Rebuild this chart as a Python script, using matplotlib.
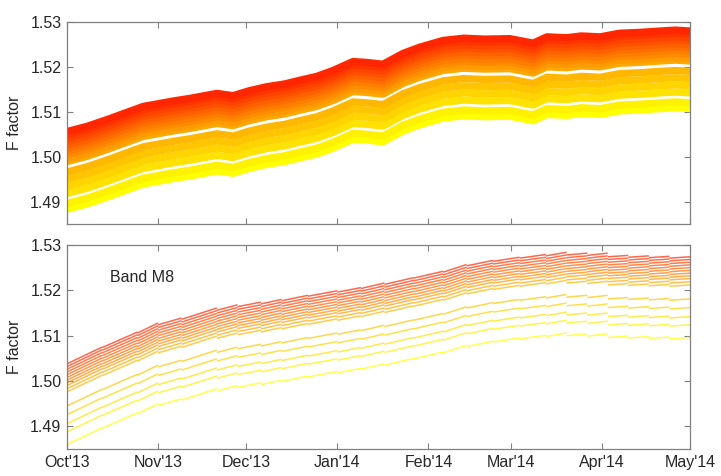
import numpy as np
import pandas as pd
import matplotlib
matplotlib.use("Agg")
import matplotlib.pyplot as plt

plt.rcParams["font.family"] = ["Liberation Sans", "DejaVu Sans"]

START = pd.Timestamp("2013-10-01")
END = pd.Timestamp("2014-05-01")

MONTH_LABELS = ["Oct'13", "Nov'13", "Dec'13", "Jan'14",
                "Feb'14", "Mar'14", "Apr'14", "May'14"]

# top panel: F factor of the highest detector, days since 1 Oct 2013
TOP_DAYS = [0, 7, 14.6, 20, 25.9, 31, 36, 41.9, 46, 51, 56.5, 62, 68, 74,
            79, 85, 90.5, 97.3, 102, 107.5, 114.3, 120, 128, 135, 142,
            150.7, 158.6, 163.3, 170, 175, 181.4, 188, 195, 201.8, 207, 212]
TOP_VALUES = [1.5056, 1.5068, 1.5085, 1.5098, 1.5112, 1.5118, 1.5124, 1.5130,
              1.5135, 1.5141, 1.5136, 1.5147, 1.5156, 1.5162, 1.5170, 1.5179,
              1.5192, 1.5212, 1.5210, 1.5206, 1.5230, 1.5244, 1.5259, 1.5264,
              1.5262, 1.5263, 1.5253, 1.5267, 1.5265, 1.5269, 1.5267, 1.5275,
              1.5277, 1.5280, 1.5282, 1.5280]

# offset of each detector from the highest one (top panel)
TOP_OFFSETS = [0, -0.0007, -0.0015, -0.0022, -0.0030, -0.0037, -0.0045,
               -0.0052, -0.0060, -0.0067, -0.0090, -0.0106, -0.0122,
               -0.0138, -0.0160, -0.0173]

# bottom panel (Band M8): LUT segments of the highest detector
SEG_DAYS = [0, 12, 24, 31, 39, 51, 58, 66, 73, 82, 92, 100, 108, 118, 128,
            136, 145, 154, 163, 170, 177, 184, 191, 198, 205, 212]
SEG_START = [1.5038, 1.5074, 1.5106, 1.5124, 1.5136, 1.5156, 1.5164, 1.5170,
             1.5177, 1.5187, 1.5196, 1.5204, 1.5213, 1.5227, 1.5240, 1.5254,
             1.5264, 1.5271, 1.5276, 1.5278, 1.5277, 1.5274, 1.5273, 1.5272,
             1.5271]
SEG_END = [1.5075, 1.5108, 1.5128, 1.5139, 1.5161, 1.5168, 1.5174, 1.5180,
           1.5189, 1.5199, 1.5206, 1.5216, 1.5228, 1.5242, 1.5257, 1.5266,
           1.5273, 1.5279, 1.5284, 1.5282, 1.5282, 1.5277, 1.5276, 1.5275,
           1.5274]

# offset of each detector from the highest one (bottom panel)
BOTTOM_OFFSETS = [0, -0.0006, -0.0012, -0.0018, -0.0024, -0.0030, -0.0036,
                  -0.0042, -0.0048, -0.0055, -0.0062, -0.0093, -0.0112,
                  -0.0132, -0.0150, -0.0178]

FRAME = "#808080"
TEXT = "#262626"


def style_axes(ax, show_labels):
    month_days = (pd.date_range(START, END, freq="MS") - START).days
    ax.set_xlim(0, (END - START).days)
    ax.set_ylim(1.485, 1.53)
    ax.set_xticks(month_days)
    if show_labels:
        ax.set_xticklabels(MONTH_LABELS)
    else:
        ax.set_xticklabels([])
    ax.set_yticks([1.49, 1.50, 1.51, 1.52, 1.53])
    ax.set_yticklabels(["1.49", "1.50", "1.51", "1.52", "1.53"])
    ax.tick_params(direction="in", length=4, width=0.8, color=FRAME,
                   top=True, right=True, labelsize=11.5, labelcolor=TEXT,
                   pad=4)
    for s in ax.spines.values():
        s.set_color(FRAME)
        s.set_linewidth(0.9)
    ax.set_ylabel("F factor", fontsize=11.5, color=TEXT, labelpad=6)


def main():
    fig = plt.figure(figsize=(7.21, 4.76), dpi=100)
    ax1 = fig.add_axes([0.093, 0.5294, 0.864, 0.4244])
    ax2 = fig.add_axes([0.093, 0.0567, 0.864, 0.4286])

    n = len(TOP_OFFSETS)
    colors = plt.cm.autumn(np.linspace(0.15, 1.0, n))

    top_days = np.array(TOP_DAYS)
    top_vals = np.array(TOP_VALUES)
    for i in reversed(range(n)):
        ax1.plot(top_days, top_vals + TOP_OFFSETS[i], color=colors[i],
                 lw=5.2, solid_capstyle="butt")

    m = len(BOTTOM_OFFSETS)
    colors2 = plt.cm.autumn(np.linspace(0.15, 1.0, m))
    for i in reversed(range(m)):
        for k in range(len(SEG_START)):
            ax2.plot([SEG_DAYS[k], SEG_DAYS[k + 1]],
                     [SEG_START[k] + BOTTOM_OFFSETS[i],
                      SEG_END[k] + BOTTOM_OFFSETS[i]],
                     color=colors2[i], lw=1.1, alpha=0.7,
                     solid_capstyle="butt")

    ax2.text(14.6, 1.5228, "Band M8", fontsize=11.5, color=TEXT,
             ha="left", va="center")

    style_axes(ax1, False)
    style_axes(ax2, True)

    fig.savefig("out.png", dpi=100)
    plt.close(fig)


if __name__ == "__main__":
    main()
